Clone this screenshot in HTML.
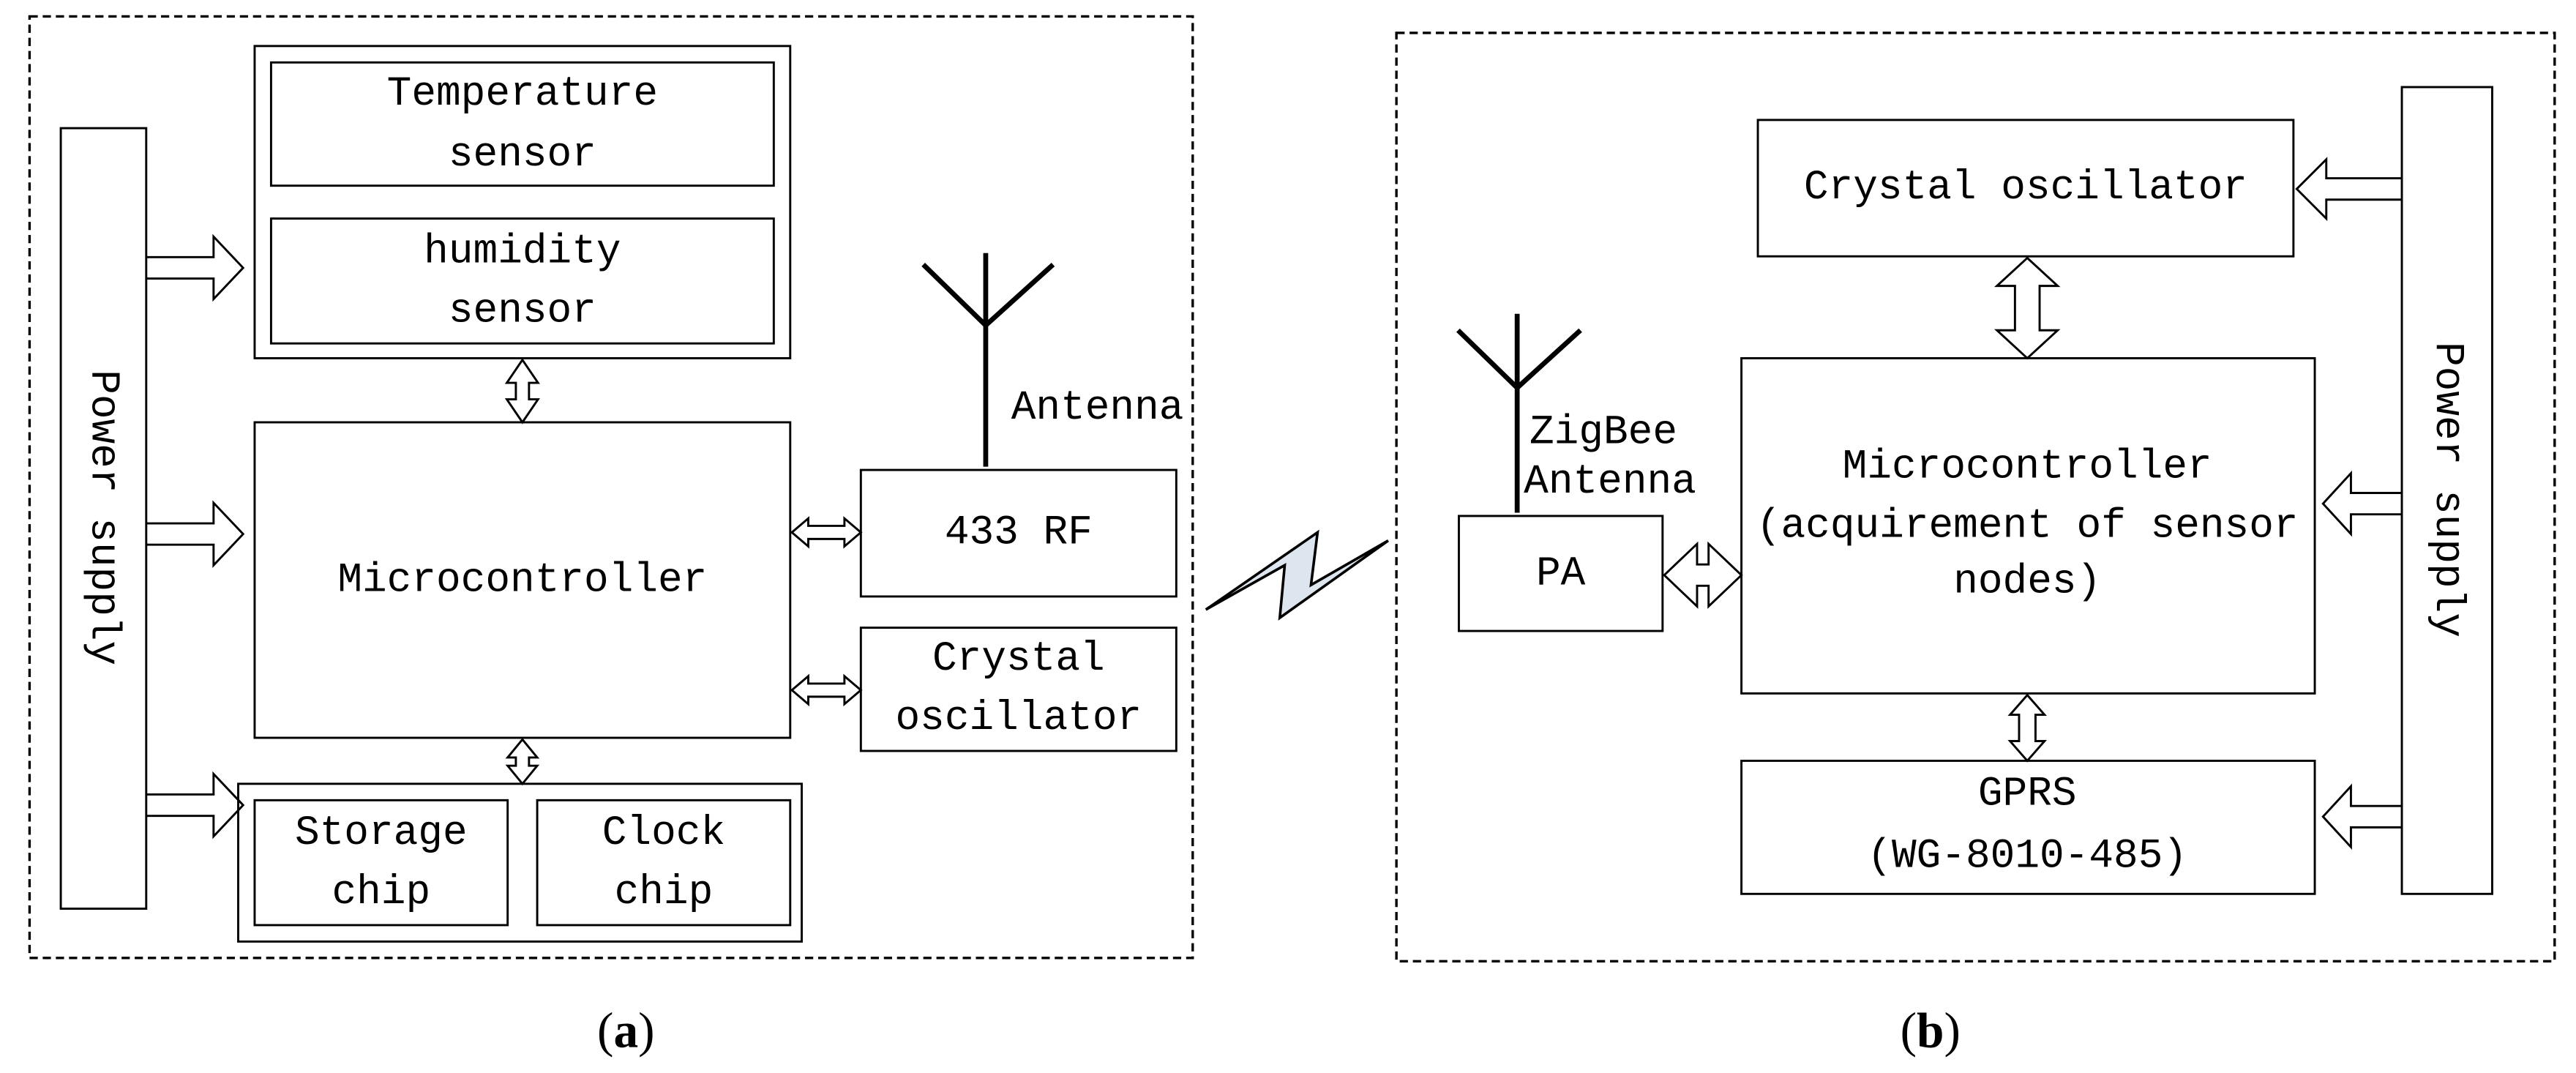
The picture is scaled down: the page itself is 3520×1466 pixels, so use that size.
<!DOCTYPE html>
<html><head><meta charset="utf-8"><style>
html,body{margin:0;padding:0;background:#fff;}
svg{display:block;}
text{font-family:"Liberation Mono",monospace;font-size:25px;fill:#000;text-anchor:middle;dominant-baseline:central;}
.c{font-family:"Liberation Serif",serif;font-size:30px;}
</style></head><body>
<svg width="3520" height="1466" viewBox="0 0 1568 653" preserveAspectRatio="none" xmlns="http://www.w3.org/2000/svg">
<g fill="none" stroke="#000" stroke-width="1.3">
<rect x="18" y="10" width="708" height="573" stroke-dasharray="5,3" stroke-width="1.5"/>
<rect x="850" y="20" width="705" height="565" stroke-dasharray="5,3" stroke-width="1.5"/>
<!-- left -->
<rect x="37" y="78" width="52" height="475" fill="#fff"/>
<rect x="155" y="28" width="326" height="190"/>
<rect x="165" y="38" width="306" height="75"/>
<rect x="165" y="133" width="306" height="76"/>
<rect x="155" y="257" width="326" height="192"/>
<rect x="145" y="477" width="343" height="96"/>
<rect x="155" y="487" width="154" height="76"/>
<rect x="327" y="487" width="154" height="76"/>
<rect x="524" y="286" width="192" height="77"/>
<rect x="524" y="382" width="192" height="75"/>
<!-- right -->
<rect x="1070" y="73" width="326" height="83"/>
<rect x="1060" y="218" width="349" height="204"/>
<rect x="1060" y="463" width="349" height="81"/>
<rect x="1462" y="53" width="55" height="491"/>
<rect x="888" y="314" width="124" height="70"/>
<!-- arrows left power -->
<path d="M89,156.5 H130 V144 L148,163 L130,182 V169.5 H89"/>
<path d="M89,318.5 H130 V306 L148,325 L130,344 V331.5 H89"/>
<path d="M89,483.5 H130 V471 L148,490 L130,509 V496.5 H89"/>
<!-- right power arrows -->
<path d="M1462,108.5 H1416 V97 L1398,115 L1416,133 V121.5 H1462"/>
<path d="M1462,300 H1431 V288 L1414,306.5 L1431,325 V313 H1462"/>
<path d="M1462,490.5 H1431 V478.5 L1414,497 L1431,515.5 V503.5 H1462"/>
<!-- vertical doubles left -->
<path d="M318,219 L327.5,233 H322 V243 H327.5 L318,257 L308.5,243 H314 V233 H308.5 Z"/>
<path d="M318,450 L327,461 H322 V466 H327 L318,477 L309,466 H314 V461 H309 Z"/>
<!-- horizontal doubles left -->
<path d="M482,324 L492,315.5 V320 H514 V315.5 L524,324 L514,332.5 V328 H492 V332.5 Z"/>
<path d="M482,420 L492,411.5 V416 H514 V411.5 L524,420 L514,428.5 V424 H492 V428.5 Z"/>
<!-- right doubles -->
<path d="M1234,157 L1252.5,174 H1241.5 V201 H1252.5 L1234,218 L1215.5,201 H1226.5 V174 H1215.5 Z"/>
<path d="M1234,423 L1244.5,435 H1239 V451 H1244.5 L1234,463 L1223.5,451 H1229 V435 H1223.5 Z"/>
<path d="M1013,350 L1033,331 V343.5 H1040 V331 L1060,350 L1040,369 V356.5 H1033 V369 Z"/>
</g>
<!-- antennas -->
<g fill="none" stroke="#000" stroke-width="3">
<path d="M600,154 V284 M562,161 L600,198 L641,161"/>
<path d="M923.5,191 V312 M887.5,201 L923.5,236 L962,201"/>
</g>
<!-- lightning -->
<polygon points="734,371 802,324 798,356 845,329 779,376 782,344" fill="#dde6ef" stroke="#000" stroke-width="1.6" stroke-linejoin="miter"/>
<!-- text -->
<text x="318" y="57">Temperature</text>
<text x="318" y="94">sensor</text>
<text x="318" y="153">humidity</text>
<text x="318" y="189">sensor</text>
<text x="318" y="353">Microcontroller</text>
<text x="620" y="324">433 RF</text>
<text x="620" y="401">Crystal</text>
<text x="620" y="437">oscillator</text>
<text x="232" y="507">Storage</text>
<text x="232" y="543">chip</text>
<text x="404" y="507">Clock</text>
<text x="404" y="543">chip</text>
<text x="668" y="248">Antenna</text>
<text x="63" y="315" transform="rotate(90 63 315)">Power supply</text>
<text x="1233" y="114">Crystal oscillator</text>
<text x="1234" y="284">Microcontroller</text>
<text x="1234" y="320">(acquirement of sensor</text>
<text x="1234" y="354">nodes)</text>
<text x="950" y="349">PA</text>
<text x="976" y="263">ZigBee</text>
<text x="980" y="293">Antenna</text>
<text x="1234" y="483">GPRS</text>
<text x="1234" y="521">(WG-8010-485)</text>
<text x="1490" y="298" transform="rotate(90 1490 298)">Power supply</text>
<text class="c" x="381" y="627">(<tspan font-weight="bold">a</tspan>)</text>
<text class="c" x="1175" y="627">(<tspan font-weight="bold">b</tspan>)</text>
</svg>
</body></html>
